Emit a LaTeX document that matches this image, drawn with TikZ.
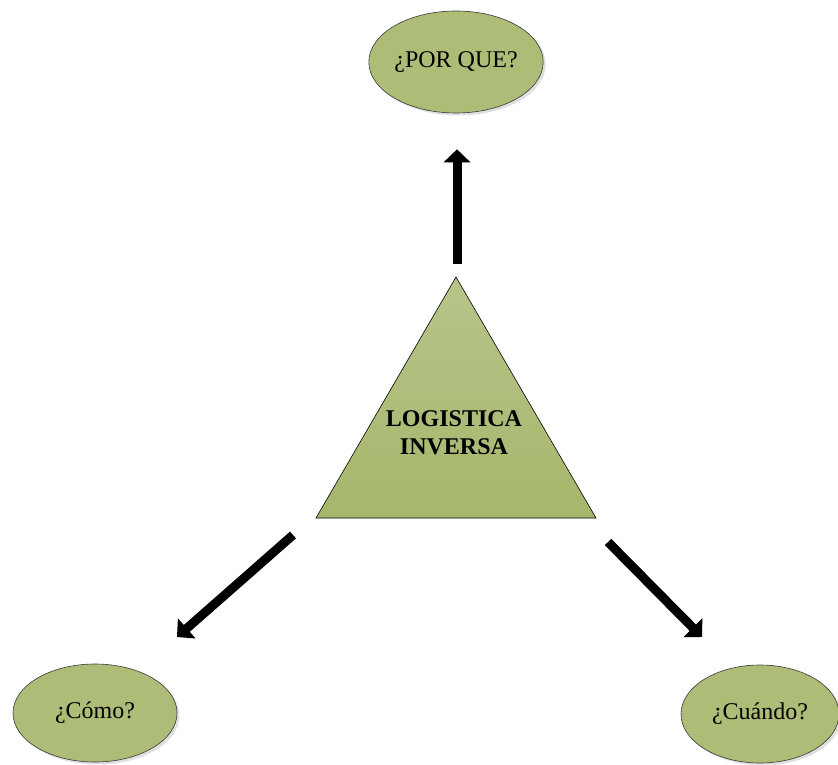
\documentclass[tikz,border=0pt]{standalone}
\usepackage{fontspec}
\setmainfont{Liberation Serif}
\usetikzlibrary{arrows.meta,shapes.geometric,shadows}
\definecolor{olivefill}{HTML}{ADBC76}
\definecolor{olivetop}{HTML}{B7C58A}
\definecolor{olivebot}{HTML}{A6B66B}
\definecolor{edgegrey}{HTML}{3A3A3A}
\tikzset{
  question/.style={ellipse, draw=edgegrey, line width=0.6pt, fill=olivefill,
    inner sep=0pt, font=\fontsize{24}{28}\selectfont,
    drop shadow={opacity=0.25, shadow xshift=2.5pt, shadow yshift=-2.5pt}},
  hubshape/.style={draw=black, line width=0.6pt, top color=olivetop, bottom color=olivebot},
  hubtext/.style={font=\bfseries\fontsize{24}{28}\selectfont, align=center, inner sep=0pt},
  bigarrow/.style={line width=9pt, -{Triangle[width=26pt,length=13pt]}},
  arrowshade/.style={bigarrow, draw=black!40, opacity=0.35}
}
\begin{document}
\begin{tikzpicture}[x=1pt,y=-1pt]
  \useasboundingbox (0,0) rectangle (838,765);

  % central triangle
  \coordinate (apex) at (456,277);
  \coordinate (bl) at (316,518);
  \coordinate (br) at (596,518);
  \path[hubshape] (bl) -- (apex) -- (br) -- cycle;
  \node[hubtext] (tri) at (454,433) {LOGISTICA\\INVERSA};

  % the three questions
  \node[question, minimum width=164pt, minimum height=102pt] (top) at (456,62) {¿POR QUE?};
  \node[question, minimum width=164pt, minimum height=98pt] (como) at (95,713) {¿Cómo?};
  \node[question, minimum width=158pt, minimum height=98pt] (cuando) at (760,714) {¿Cuándo?};

  % arrow ends next to the triangle and the lower ellipses
  \coordinate (us) at (457,264);
  \coordinate (ls) at (293,535);
  \coordinate (le) at (177,637);
  \coordinate (rs) at (608,542);
  \coordinate (re) at (702,637);

  % soft shadows under the arrows
  \begin{scope}[shift={(2,2)}]
    \draw[arrowshade, shorten >=36pt] (us) -- (top.south -| us);
    \draw[arrowshade] (ls) -- (le);
    \draw[arrowshade] (rs) -- (re);
  \end{scope}

  % arrows
  \draw[bigarrow, shorten >=36pt] (us) -- (top.south -| us);
  \draw[bigarrow] (ls) -- (le);
  \draw[bigarrow] (rs) -- (re);
\end{tikzpicture}
\end{document}
